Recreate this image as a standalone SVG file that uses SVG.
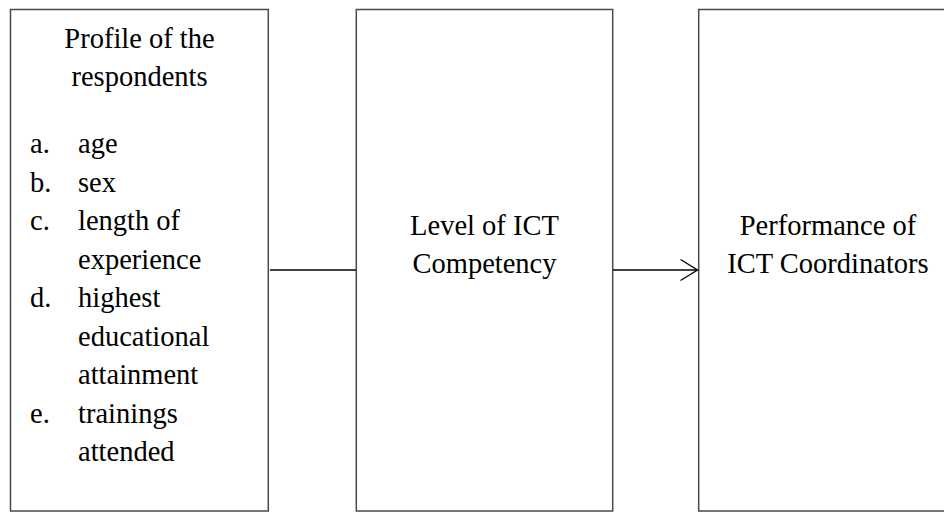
<svg xmlns="http://www.w3.org/2000/svg" width="944" height="512" viewBox="0 0 944 512">
  <style>
    .box { fill: #ffffff; stroke: #4a4a4a; stroke-width: 1.5; }
    .label { font-family: "Liberation Serif", "Times New Roman", serif; font-size: 28.5px; fill: #000000; }
    .mid { text-anchor: middle; }
    .link { fill: none; stroke: #000000; stroke-width: 1.4; }
  </style>
  <defs>
    <marker id="open-arrow" viewBox="0 0 20 24" refX="18" refY="12" markerWidth="20" markerHeight="24" markerUnits="userSpaceOnUse" orient="auto">
      <path d="M1,1.5 L18,12 L1,22.5" fill="none" stroke="#000000" stroke-width="1.4"/>
    </marker>
  </defs>
  <rect width="944" height="512" fill="#ffffff"/>

  <g id="profile">
    <rect class="box" x="10.5" y="9.5" width="257.8" height="501.5"/>
    <text class="label mid" x="139.5" y="48">Profile of the</text>
    <text class="label mid" x="139.5" y="86">respondents</text>
    <text class="label" x="30" y="153">a.</text>
    <text class="label" x="78" y="153">age</text>
    <text class="label" x="30" y="191.5">b.</text>
    <text class="label" x="78" y="191.5">sex</text>
    <text class="label" x="30" y="230">c.</text>
    <text class="label" x="78" y="230">length of</text>
    <text class="label" x="78" y="268.5">experience</text>
    <text class="label" x="30" y="307">d.</text>
    <text class="label" x="78" y="307">highest</text>
    <text class="label" x="78" y="345.5">educational</text>
    <text class="label" x="78" y="384">attainment</text>
    <text class="label" x="30" y="422.5">e.</text>
    <text class="label" x="78" y="422.5">trainings</text>
    <text class="label" x="78" y="461">attended</text>
  </g>

  <g id="competency">
    <rect class="box" x="356.3" y="9.5" width="256.4" height="501.5"/>
    <text class="label mid" x="484.5" y="235">Level of ICT</text>
    <text class="label mid" x="484.5" y="273">Competency</text>
  </g>

  <g id="performance">
    <rect class="box" x="698.7" y="9.5" width="258.5" height="501.5"/>
    <text class="label mid" x="828" y="235">Performance of</text>
    <text class="label mid" x="828" y="273">ICT Coordinators</text>
  </g>

  <g id="connectors">
    <line class="link" x1="270" y1="270" x2="356" y2="270"/>
    <line class="link" x1="613" y1="270" x2="697.5" y2="270" marker-end="url(#open-arrow)"/>
  </g>
</svg>
